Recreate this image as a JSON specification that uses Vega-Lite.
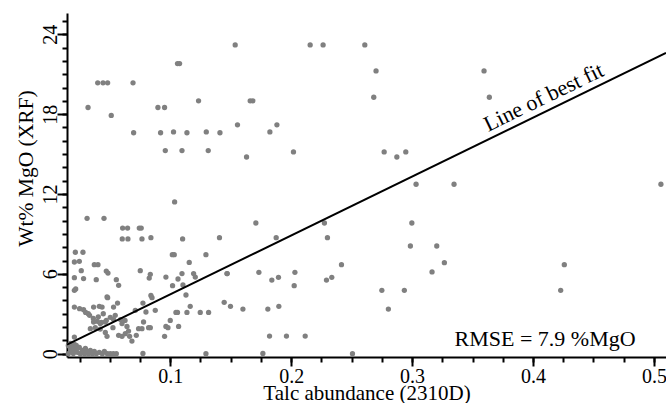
{
  "$schema": "https://vega.github.io/schema/vega-lite/v6.json",
  "width": 599,
  "height": 344,
  "autosize": {"type": "none"},
  "padding": {"left": 67, "top": 13, "right": 0, "bottom": 46},
  "background": "white",
  "config": {
    "view": {"stroke": null},
    "font": "Liberation Serif",
    "axis": {"grid": false, "domainColor": "black", "tickColor": "black", "labelColor": "black", "titleColor": "black", "labelFont": "Liberation Serif", "titleFont": "Liberation Serif", "titleFontWeight": "normal", "labelFlush": false, "labelOverlap": false}
  },
  "datasets": {
    "pts": [
      {"x":0.032,"y":18.5},{"x":0.040,"y":20.35},{"x":0.0444,"y":20.35},{"x":0.0482,"y":20.35},{"x":0.0512,"y":17.9},{"x":0.0692,"y":20.35},{"x":0.0697,"y":16.6},{"x":0.0898,"y":18.5},{"x":0.0953,"y":18.5},{"x":0.092,"y":16.6},{"x":0.0959,"y":15.26},{"x":0.1027,"y":16.66},{"x":0.106,"y":21.8},{"x":0.1077,"y":21.8},{"x":0.1097,"y":15.26},{"x":0.1138,"y":16.6},{"x":0.1234,"y":19.0},{"x":0.1298,"y":16.66},{"x":0.1314,"y":15.26},{"x":0.1411,"y":16.6},{"x":0.1537,"y":23.2},{"x":0.1556,"y":17.2},{"x":0.1036,"y":11.4},{"x":0.1661,"y":19.0},{"x":0.1683,"y":19.0},{"x":0.1631,"y":14.78},{"x":0.1824,"y":16.66},{"x":0.1882,"y":17.2},{"x":0.2019,"y":15.16},{"x":0.2157,"y":23.2},{"x":0.2264,"y":23.2},{"x":0.2609,"y":23.2},{"x":0.2702,"y":21.25},{"x":0.2683,"y":19.27},{"x":0.2769,"y":15.16},{"x":0.2874,"y":14.78},{"x":0.2948,"y":15.16},{"x":0.3033,"y":12.73},{"x":0.3595,"y":21.25},{"x":0.3639,"y":19.27},{"x":0.3347,"y":12.73},{"x":0.5058,"y":12.73},
      {"x":0.3204,"y":8.09},{"x":0.3267,"y":6.84},{"x":0.3165,"y":6.14},{"x":0.4259,"y":6.69},{"x":0.4229,"y":4.76},{"x":0.1295,"y":7.44},{"x":0.1407,"y":8.72},{"x":0.1708,"y":9.82},{"x":0.1876,"y":8.72},{"x":0.2275,"y":9.82},{"x":0.23,"y":8.72},{"x":0.1471,"y":6.02},{"x":0.1733,"y":6.11},{"x":0.184,"y":5.53},{"x":0.1895,"y":5.74},{"x":0.2031,"y":6.11},{"x":0.2025,"y":5.11},{"x":0.2292,"y":5.53},{"x":0.2336,"y":5.74},{"x":0.2416,"y":6.69},{"x":0.1446,"y":3.86},{"x":0.1498,"y":3.56},{"x":0.1601,"y":3.35},{"x":0.1807,"y":3.35},{"x":0.1898,"y":3.56},{"x":0.1248,"y":3.1},{"x":0.1317,"y":3.1},{"x":0.1821,"y":1.32},{"x":0.1961,"y":1.32},{"x":0.2116,"y":1.32},{"x":0.1295,"y":0},{"x":0.1766,"y":0.02},{"x":0.2507,"y":0},{"x":0.275,"y":4.76},{"x":0.2804,"y":3.35},{"x":0.2936,"y":4.76},{"x":0.2998,"y":9.82},{"x":0.2986,"y":8.09},
      {"x":0.0312,"y":10.17},{"x":0.0452,"y":10.17},{"x":0.0606,"y":9.44},{"x":0.0647,"y":9.44},{"x":0.0603,"y":8.62},{"x":0.065,"y":8.62},{"x":0.0744,"y":9.44},{"x":0.076,"y":9.44},{"x":0.0766,"y":8.62},{"x":0.084,"y":8.72},{"x":0.1102,"y":8.62},{"x":0.1017,"y":7.44},{"x":0.1033,"y":7.44},{"x":0.0215,"y":7.62},{"x":0.0278,"y":7.62},{"x":0.0207,"y":6.89},{"x":0.0248,"y":6.94},{"x":0.0372,"y":6.69},{"x":0.0402,"y":6.69},{"x":0.0264,"y":6.24},{"x":0.0207,"y":5.71},{"x":0.0283,"y":5.64},{"x":0.0388,"y":5.56},{"x":0.0471,"y":6.21},{"x":0.0485,"y":6.06},{"x":0.0752,"y":6.24},{"x":0.0835,"y":5.96},{"x":0.0826,"y":5.68},{"x":0.0964,"y":5.76},{"x":0.1019,"y":5.11},{"x":0.1064,"y":5.61},{"x":0.1097,"y":6.02},{"x":0.1157,"y":6.86},{"x":0.1193,"y":6.02},{"x":0.1207,"y":5.76},{"x":0.1105,"y":5.16},{"x":0.1469,"y":6.02},{"x":0.0554,"y":5.56},{"x":0.0573,"y":5.14},{"x":0.0207,"y":4.76},{"x":0.0218,"y":4.86},{"x":0.0482,"y":4.21},{"x":0.084,"y":4.38},{"x":0.0849,"y":4.21},{"x":0.113,"y":4.41},
      {"x":0.0207,"y":3.5},{"x":0.025,"y":3.38},{"x":0.0283,"y":3.31},{"x":0.03,"y":3.1},{"x":0.0413,"y":3.56},{"x":0.0436,"y":3.5},{"x":0.0564,"y":3.8},{"x":0.0531,"y":3.5},{"x":0.0774,"y":3.8},{"x":0.0799,"y":3.13},{"x":0.0876,"y":3.26},{"x":0.1047,"y":3.1},{"x":0.106,"y":3.1},{"x":0.1165,"y":3.56},{"x":0.1138,"y":3.1},{"x":0.0711,"y":3.26},{"x":0.0333,"y":2.88},{"x":0.0364,"y":2.65},{"x":0.0397,"y":2.43},{"x":0.043,"y":2.35},{"x":0.0471,"y":2.5},{"x":0.0504,"y":2.73},{"x":0.0531,"y":2.56},{"x":0.0545,"y":2.88},{"x":0.0339,"y":1.88},{"x":0.038,"y":1.95},{"x":0.0421,"y":1.85},{"x":0.0463,"y":1.6},{"x":0.0477,"y":1.3},{"x":0.0526,"y":1.95},{"x":0.0589,"y":2.56},{"x":0.0626,"y":2.5},{"x":0.0601,"y":1.3},{"x":0.0642,"y":2.05},{"x":0.0655,"y":1.7},{"x":0.0664,"y":1.3},{"x":0.0683,"y":0.95},{"x":0.0719,"y":1.38},{"x":0.0738,"y":1.88},{"x":0.0766,"y":1.88},{"x":0.0779,"y":2.38},{"x":0.0821,"y":1.95},{"x":0.0835,"y":1.95},{"x":0.0964,"y":2.05},{"x":0.0981,"y":1.95},{"x":0.0953,"y":1.3},{"x":0.1,"y":2.5},{"x":0.1069,"y":2.05},{"x":0.0207,"y":1.25},{"x":0.0207,"y":0.7},{"x":0.0774,"y":0.02},
      {"x":0.0405,"y":2.77},{"x":0.0446,"y":3.0},{"x":0.0322,"y":3.0},{"x":0.0366,"y":2.38},{"x":0.0421,"y":2.26},{"x":0.0463,"y":2.38},{"x":0.0601,"y":2.26},{"x":0.0628,"y":1.5},{"x":0.0573,"y":1.38},{"x":0.0366,"y":3.5},{"x":0.0477,"y":4.26},
      {"x":0.0157,"y":0.62},{"x":0.0174,"y":0.4},{"x":0.0182,"y":0.17},{"x":0.0198,"y":0.02},{"x":0.0215,"y":0.32},{"x":0.0232,"y":0.1},{"x":0.0248,"y":0.47},{"x":0.0256,"y":0},{"x":0.0273,"y":0.25},{"x":0.029,"y":0},{"x":0.0306,"y":0.17},{"x":0.0322,"y":0},{"x":0.0339,"y":0.25},{"x":0.0355,"y":0},{"x":0.0372,"y":0.17},{"x":0.0388,"y":0},{"x":0.0413,"y":0.1},{"x":0.0438,"y":0},{"x":0.0455,"y":0.17},{"x":0.048,"y":0},{"x":0.0504,"y":0},{"x":0.0529,"y":0},{"x":0.0554,"y":0},{"x":0.0174,"y":0.77},{"x":0.019,"y":0.55},{"x":0.0223,"y":0.62},{"x":0.0298,"y":0.4},{"x":0.0157,"y":0}
    ],
    "fit": [{"x":0.0146,"y":0.68},{"x":0.51,"y":22.6}],
    "ann1": [{"x":0.4113,"y":18.8,"label":"Line of best fit"}],
    "ann2": [{"x":0.41,"y":0.57,"label":"RMSE = 7.9 %MgO"}]
  },
  "layer": [
    {
      "data": {"name": "pts"},
      "mark": {"type": "circle", "size": 28, "color": "#808080", "opacity": 1},
      "encoding": {
        "x": {"field": "x", "type": "quantitative", "scale": {"domain": [0.0146, 0.51], "nice": false, "zero": false},
          "axis": {"orient": "bottom", "values": [0.025,0.05,0.075,0.1,0.125,0.15,0.175,0.2,0.225,0.25,0.275,0.3,0.325,0.35,0.375,0.4,0.425,0.45,0.475,0.5], "labels": false, "tickSize": 5, "tickWidth": 2, "domainWidth": 2, "title": null}},
        "y": {"field": "y", "type": "quantitative", "scale": {"domain": [-0.25, 25.6], "nice": false, "zero": false},
          "axis": {"orient": "left", "values": [0,1,2,3,4,5,6,7,8,9,10,11,12,13,14,15,16,17,18,19,20,21,22,23,24,25], "labels": false, "tickSize": 5, "tickWidth": 2, "domainWidth": 2, "title": null}}
      }
    },
    {
      "data": {"name": "fit"},
      "mark": {"type": "line", "color": "black", "strokeWidth": 2},
      "encoding": {
        "x": {"field": "x", "type": "quantitative",
          "axis": {"orient": "bottom", "values": [0.1,0.2,0.3,0.4,0.5], "format": ".1f", "tickSize": 9, "tickWidth": 2, "domain": false, "labelFontSize": 20, "labelPadding": 0, "labelBaseline": "top", "title": "Talc abundance (2310D)", "titleFontSize": 21, "titleY": 42, "titleBaseline": "alphabetic"}},
        "y": {"field": "y", "type": "quantitative",
          "axis": {"orient": "left", "values": [0,6,12,18,24], "tickSize": 10, "tickWidth": 2, "domain": false, "labelFontSize": 20, "labelAngle": 270, "labelAlign": "center", "labelBaseline": "alphabetic", "labelPadding": 1, "title": "Wt% MgO (XRF)", "titleFontSize": 21.5, "titleAngle": 270, "titleX": -35, "titleY": 155, "titleAlign": "center", "titleBaseline": "alphabetic"}}
      }
    },
    {
      "data": {"name": "ann1"},
      "mark": {"type": "text", "angle": 334.1, "fontSize": 22, "font": "Liberation Serif", "align": "center", "baseline": "alphabetic", "color": "black"},
      "encoding": {
        "x": {"field": "x", "type": "quantitative", "axis": null},
        "y": {"field": "y", "type": "quantitative", "axis": null},
        "text": {"field": "label"}
      }
    },
    {
      "data": {"name": "ann2"},
      "mark": {"type": "text", "fontSize": 22, "font": "Liberation Serif", "align": "center", "baseline": "alphabetic", "color": "black"},
      "encoding": {
        "x": {"field": "x", "type": "quantitative", "axis": null},
        "y": {"field": "y", "type": "quantitative", "axis": null},
        "text": {"field": "label"}
      }
    }
  ],
  "resolve": {"axis": {"x": "independent", "y": "independent"}}
}
